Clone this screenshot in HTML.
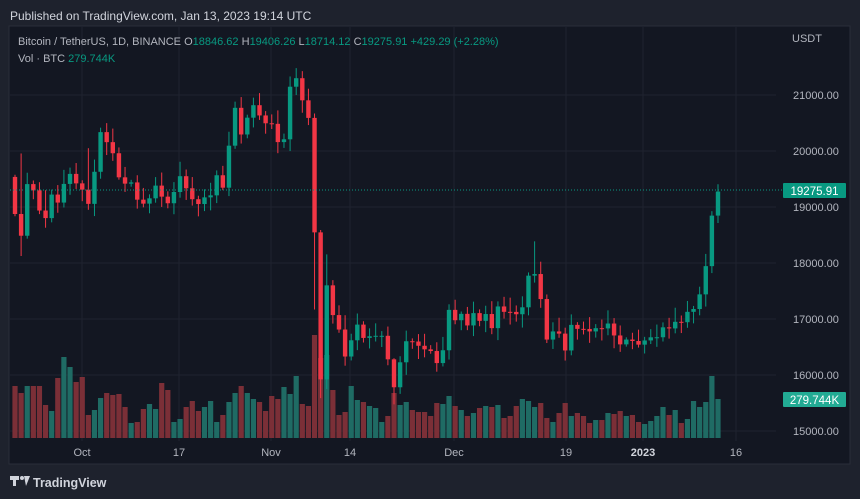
<!DOCTYPE html>
<html><head><meta charset="utf-8"><style>
html,body{margin:0;padding:0;background:#1e222d;width:860px;height:499px;overflow:hidden;font-family:"Liberation Sans",sans-serif}
svg{position:absolute;left:0;top:0}
</style></head><body>
<svg id="s" width="860" height="499" xmlns="http://www.w3.org/2000/svg">
<rect x="0" y="0" width="860" height="499" fill="#1e222d"/>
<rect x="9" y="26" width="841" height="438" fill="#131722" stroke="#2a2e39"/>
<text x="10" y="20" fill="#d1d4dc" font-size="12">Published on TradingView.com, Jan 13, 2023 19:14 UTC</text>
<g id="grid"></g><g id="vol"></g><g id="cdl"></g>
<line x1="10" y1="190" x2="783" y2="190" stroke="#089981" stroke-dasharray="1,2" stroke-width="1"/>
<text x="18" y="45" font-size="11" fill="#b2b5be">Bitcoin / TetherUS, 1D, BINANCE <tspan>O</tspan><tspan fill="#089981">18846.62</tspan> <tspan>H</tspan><tspan fill="#089981">19406.26</tspan> <tspan>L</tspan><tspan fill="#089981">18714.12</tspan> <tspan>C</tspan><tspan fill="#089981">19275.91 +429.29 (+2.28%)</tspan></text>
<text x="18" y="62" font-size="11" fill="#b2b5be">Vol · BTC <tspan fill="#089981">279.744K</tspan></text>
<text x="792" y="42" font-size="11" fill="#b2b5be">USDT</text>
<g id="axis" font-size="11" fill="#b2b5be"></g>
<rect x="783" y="183" width="63" height="15" rx="1" fill="#089981"/>
<text x="814.5" y="195" font-size="11.5" fill="#fff" text-anchor="middle">19275.91</text>
<rect x="783" y="392" width="63" height="15" rx="1" fill="#22ab94"/>
<text x="814.5" y="404" font-size="11.5" fill="#fff" text-anchor="middle">279.744K</text>
<g font-size="11" fill="#b2b5be" text-anchor="middle">
<text x="82" y="456">Oct</text><text x="179" y="456">17</text><text x="271" y="456">Nov</text><text x="350" y="456">14</text><text x="454" y="456">Dec</text><text x="566" y="456">19</text><text x="643" y="456" fill="#d1d4dc" font-weight="bold">2023</text><text x="736" y="456">16</text>
</g>
<g transform="translate(10,476)"><rect x="0" y="0" width="9" height="4" fill="#d1d4dc"/><rect x="3" y="0" width="3" height="10" fill="#d1d4dc"/><circle cx="12" cy="2" r="2" fill="#d1d4dc"/><path d="M14 0 L20 0 L16 10 Z" fill="#d1d4dc"/></g>
<text x="33" y="487" font-size="12.5" font-weight="bold" fill="#d1d4dc">TradingView</text>
</svg>
<script>
var C=[18875,18487,19409,19297,18937,18802,19222,19079,19412,19591,19422,19310,19056,19629,20337,20158,19960,19530,19417,19439,19131,19060,19155,19382,19185,19067,19268,19550,19334,19139,19053,19172,19208,19567,19345,20095,20771,20295,20595,20818,20635,20495,20485,20159,20209,21148,21300,20905,20591,18547,15922,17601,17070,16812,16330,16620,16900,16662,16692,16700,16700,16280,15781,16227,16603,16598,16522,16458,16428,16213,16442,17163,16978,17092,16885,17105,16967,17089,16837,17224,17128,17127,17085,17209,17774,17803,17356,16633,16778,16739,16438,16895,16824,16822,16778,16836,16832,16919,16706,16547,16633,16607,16542,16617,16673,16674,16851,16832,16950,16943,17128,17178,17440,17944,18846,19275.91];
var V=[52,45,52,52,52,33,27,60,81,71,56,61,23,28,40,45,43,44,31,15,16,29,34,29,55,48,16,19,31,37,27,31,37,16,23,36,45,52,45,39,36,27,42,39,51,44,62,34,32,103,80,83,48,23,26,52,38,36,32,30,16,22,45,33,36,28,26,26,22,35,34,42,32,28,22,25,30,32,31,33,20,22,32,39,37,31,35,20,16,25,35,22,25,22,15,18,18,25,24,27,22,23,16,14,17,22,31,23,28,15,19,37,31,36,62,39];
var OV={1:[19956,18125],5:[19300,18630],12:[20050,18950],46:[21480,21000],49:[20670,17170],50:[18590,15588],51:[18154,15750],62:[16300,15476],85:[18387,17650],115:[19406.26,18714.12]};
function Y(p){return 431-(p-15000)*0.056;}
var ns="http://www.w3.org/2000/svg";
function el(g,t,a){var e=document.createElementNS(ns,t);for(var k in a)e.setAttribute(k,a[k]);document.getElementById(g).appendChild(e);return e;}
[82,179,271,350,454,566,643,736].forEach(function(x){el("grid","line",{x1:x,y1:27,x2:x,y2:441,stroke:"#1f2330"});});
for(var p=15000;p<=21000;p+=1000){el("grid","line",{x1:10,y1:Y(p),x2:776,y2:Y(p),stroke:"#1f2330"});var t=el("axis","text",{x:793,y:Y(p)+4});t.textContent=p+".00";}
var prev=19537;
for(var i=0;i<C.length;i++){
 var o=(i==115)?18846.62:prev,c=C[i],x=15+i*6.113,up=c>=o;
 var h=Math.max(o,c)+40+((i*37)%100)*2.2,l=Math.min(o,c)-40-((i*53)%100)*2.0;
 if(OV[i]){h=OV[i][0];l=OV[i][1];}
 var col=up?"#089981":"#f23645";
 el("cdl","line",{x1:x,y1:Y(h),x2:x,y2:Y(l),stroke:col,"stroke-width":1});
 var t1=Y(Math.max(o,c)),b1=Y(Math.min(o,c));
 el("cdl","rect",{x:x-2.2,y:t1,width:4.4,height:Math.max(1,b1-t1),fill:col});
 var v=V[i]||30;
 el("vol","rect",{x:x-2.6,y:438-v,width:5.2,height:v,fill:up?"#1f6b64":"#7b2f37"});
 prev=c;
}
</script>
</body></html>
